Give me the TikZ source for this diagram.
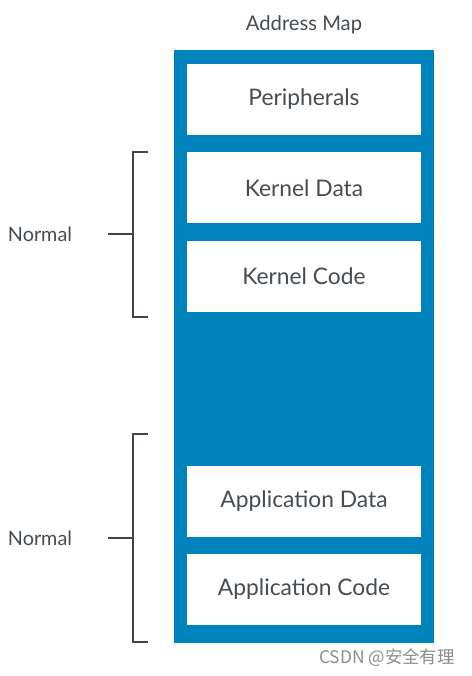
\documentclass[tikz,border=0pt]{standalone}
\usepackage{fontspec}
\setmainfont{Lato}
\newfontfamily\cjkfont{Noto Sans CJK SC}
\usetikzlibrary{positioning}
\usetikzlibrary{backgrounds}

\definecolor{mapblue}{RGB}{0,131,186}
\definecolor{txtgray}{RGB}{70,76,84}
\definecolor{brgray}{RGB}{62,68,76}

\begin{document}
\begin{tikzpicture}[x=1pt, y=-1pt, node distance=17pt,
    region/.style={rectangle, fill=white, minimum width=234pt, minimum height=71pt, inner sep=0pt, text=txtgray, font=\fontsize{22.8}{26}\selectfont},
    brace/.style={draw=brgray, line width=1.8pt},
    side/.style={text=txtgray, font=\fontsize{19.8}{22}\selectfont}]

    \useasboundingbox (0,0) rectangle (471,676);

    % Regions
    \node[region] (peri) at (304,99.5) {Peripherals};
    \node[region, below=of peri] (kdata) {Kernel Data};
    \node[region, below=of kdata] (kcode) {Kernel Code};
    \node[region] (adata) at (304,501) {Application Data};
    \node[region, below=of adata] (acode) {Application Code};

    % Title
    \node[text=txtgray, font=\fontsize{20.2}{23}\selectfont] (title) at (304,25) {Address Map};

    % Map
    \begin{scope}[on background layer]
      \fill[mapblue] (174,50) rectangle (434,643);
    \end{scope}

    % Brackets
    \node[side] (knormal) at (40,234) {Normal};
    \coordinate (ktop) at (148,152);
    \coordinate (kbot) at (148,317);
    \coordinate (ktick) at (108,234);
    \draw[brace] (ktop) -- (133,152) -- (133,317) -- (kbot);
    \draw[brace] (ktick) -- (133,234);

    \node[side] (anormal) at (40,538) {Normal};
    \coordinate (atop) at (148,434);
    \coordinate (abot) at (148,642);
    \coordinate (atick) at (108,538);
    \draw[brace] (atop) -- (133,434) -- (133,642) -- (abot);
    \draw[brace] (atick) -- (133,538);

    % Watermark
    \node[text=black!45, font=\fontsize{17.4}{20}\selectfont] (mark) at (387,658) {\cjkfont CSDN @安全有理};

\end{tikzpicture}
\end{document}
